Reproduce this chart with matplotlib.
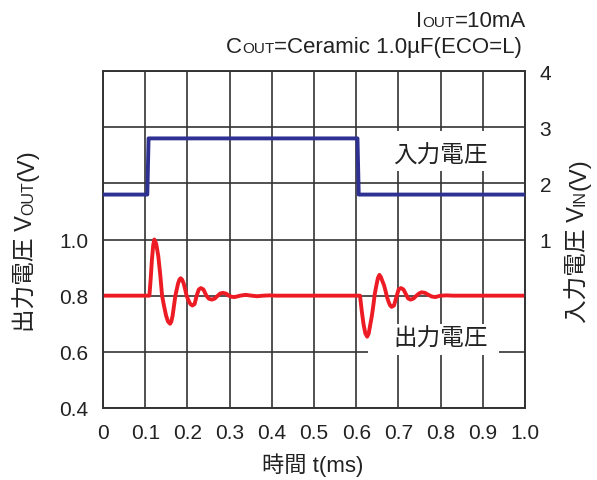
import numpy as np
import matplotlib
matplotlib.use('Agg')
import matplotlib.pyplot as plt
from matplotlib.patches import Rectangle
from matplotlib.transforms import offset_copy

plt.rcParams['font.family'] = ['Liberation Sans', 'Noto Sans CJK JP']

# 入力電圧 (右軸, V)
t_in = [0.0, 0.105, 0.108, 0.603, 0.606, 1.0]
v_in = [1.8, 1.8, 2.8, 2.8, 1.8, 1.8]

# 出力電圧 (左軸, V)
t_out = [0.0, 0.110, 0.113, 0.116, 0.119, 0.1216, 0.126, 0.131, 0.1355, 0.140,
         0.1448, 0.1495, 0.154, 0.159, 0.162, 0.165, 0.168, 0.1715, 0.175, 0.178,
         0.181, 0.184, 0.1875, 0.191, 0.1945, 0.198, 0.2015, 0.205, 0.2085, 0.212,
         0.217, 0.222, 0.227, 0.232, 0.238, 0.245, 0.251, 0.258, 0.265, 0.272,
         0.278, 0.285, 0.292, 0.298, 0.305, 0.312, 0.325, 0.338, 0.352, 0.365,
         0.380, 0.395, 0.410, 0.609, 0.6133, 0.6175, 0.6218, 0.626, 0.6296, 0.633,
         0.637, 0.6405, 0.644, 0.648, 0.6515, 0.655, 0.6586, 0.662, 0.666, 0.6695,
         0.673, 0.677, 0.6805, 0.684, 0.6895, 0.695, 0.7005, 0.706, 0.712, 0.7175,
         0.723, 0.729, 0.736, 0.742, 0.749, 0.755, 0.763, 0.771, 0.779, 0.787,
         0.800, 0.815, 0.830, 1.0]
v_out = [0.80, 0.80, 0.86, 0.93, 0.98, 1.00, 0.985, 0.941, 0.877, 0.80,
         0.762, 0.729, 0.708, 0.700, 0.708, 0.729, 0.762, 0.80, 0.824, 0.844,
         0.857, 0.862, 0.857, 0.844, 0.824, 0.80, 0.787, 0.775, 0.768, 0.765,
         0.770, 0.80, 0.822, 0.827, 0.822, 0.80, 0.789, 0.786, 0.790, 0.80,
         0.808, 0.810, 0.807, 0.80, 0.796, 0.795, 0.80, 0.803, 0.80, 0.798,
         0.80, 0.801, 0.80, 0.80, 0.744, 0.697, 0.665, 0.654, 0.665, 0.694,
         0.727, 0.764, 0.806, 0.838, 0.863, 0.874, 0.866, 0.852, 0.837, 0.817,
         0.795, 0.777, 0.765, 0.760, 0.765, 0.7935, 0.822, 0.827, 0.822, 0.806,
         0.79, 0.786, 0.79, 0.799, 0.808, 0.812, 0.81, 0.803, 0.797, 0.795,
         0.80, 0.801, 0.80, 0.80]

x_ticks = [0.0, 0.1, 0.2, 0.3, 0.4, 0.5, 0.6, 0.7, 0.8, 0.9, 1.0]
x_labels = ['0', '0.1', '0.2', '0.3', '0.4', '0.5', '0.6', '0.7', '0.8', '0.9', '1.0']
yl_ticks = [0.4, 0.6, 0.8, 1.0, 1.2, 1.4, 1.6]
yl_labels = ['0.4', '0.6', '0.8', '1.0', '', '', '']
yr_ticks = [-2, -1, 0, 1, 2, 3, 4]
yr_labels = ['', '', '', '1', '2', '3', '4']

GRID = '#333333'
BLUE = '#2e3192'
RED = '#ed1c24'
FS = 15

fig = plt.figure(figsize=(5.97, 4.81), dpi=100)
ax = fig.add_axes([103 / 597, 1 - 409 / 481, 422 / 597, 337 / 481])
ax.set_xlim(0, 1)
ax.set_ylim(0.4, 1.6)
ax.set_xticks(x_ticks)
ax.set_xticklabels(x_labels)
ax.set_yticks(yl_ticks)
ax.set_yticklabels(yl_labels)
ax.grid(True, color=GRID, linewidth=1.2)
ax.tick_params(axis='x', length=0, pad=11, labelsize=FS, colors='#222222')
ax.tick_params(axis='y', length=0, pad=10.5, labelsize=FS, colors='#222222')
for s in ax.spines.values():
    s.set_color(GRID)
    s.set_linewidth(1.2)

# ラベル背景の白抜き
ax.add_patch(Rectangle((0.628, 1.244), 0.34, 0.144, facecolor='white',
                       edgecolor='none', zorder=2))
ax.add_patch(Rectangle((0.628, 0.587), 0.31, 0.113, facecolor='white',
                       edgecolor='none', zorder=2))
ax.text(0.80, 1.30, '入力電圧', fontsize=17, ha='center', va='center',
        color='#222222', zorder=3)
ax.text(0.80, 0.648, '出力電圧', fontsize=17, ha='center', va='center',
        color='#222222', zorder=3)

ax.plot(t_out, v_out, color=RED, linewidth=2.8, zorder=4, solid_joinstyle='round')

ax2 = ax.twinx()
ax2.set_ylim(-2, 4)
ax2.set_yticks(yr_ticks)
ax2.set_yticklabels(yr_labels)
ax2.tick_params(axis='y', length=0, pad=10.5, labelsize=FS, colors='#222222')
for s in ax2.spines.values():
    s.set_color(GRID)
    s.set_linewidth(1.2)
ax2.plot(t_in, v_in, color=BLUE, linewidth=2.8, zorder=4)

fig.text(313 / 597, 1 - 465 / 481, '時間 t(ms)', fontsize=16, ha='center',
         va='center', color='#222222')


def rich_text(x, y, parts, ha='left', rotation=0):
    # 大きさの違う文字列を並べる (x, y は図の左上からのピクセル)
    r = fig.canvas.get_renderer()
    widths = []
    for s, fs in parts:
        t = fig.text(0, 0, s, fontsize=fs)
        widths.append(t.get_window_extent(r).width)
        t.remove()
    total = sum(widths)
    shift = {'left': 0, 'center': -total / 2, 'right': -total}[ha]
    ang = np.deg2rad(rotation)
    for (s, fs), w in zip(parts, widths):
        tr = offset_copy(fig.transFigure, fig=fig, x=shift * np.cos(ang),
                         y=shift * np.sin(ang), units='dots')
        fig.text(x / 597, 1 - y / 481, s, fontsize=fs, transform=tr, ha='left',
                 va='baseline', rotation=rotation, rotation_mode='anchor',
                 color='#222222')
        shift += w


rich_text(526, 27, [('I', 16), ('OUT', 11), ('=10mA', 16)], ha='right')
rich_text(522, 53, [('C', 16), ('OUT', 11), ('=Ceramic 1.0µF(ECO=L)', 16)], ha='right')
rich_text(33, 240.5, [('出力電圧 V', 17), ('OUT', 11.5), ('(V)', 17)],
          ha='center', rotation=90)
rich_text(585, 240.5, [('入力電圧 V', 17), ('IN', 11.5), ('(V)', 17)],
          ha='center', rotation=90)

fig.savefig('out.png', dpi=100)
